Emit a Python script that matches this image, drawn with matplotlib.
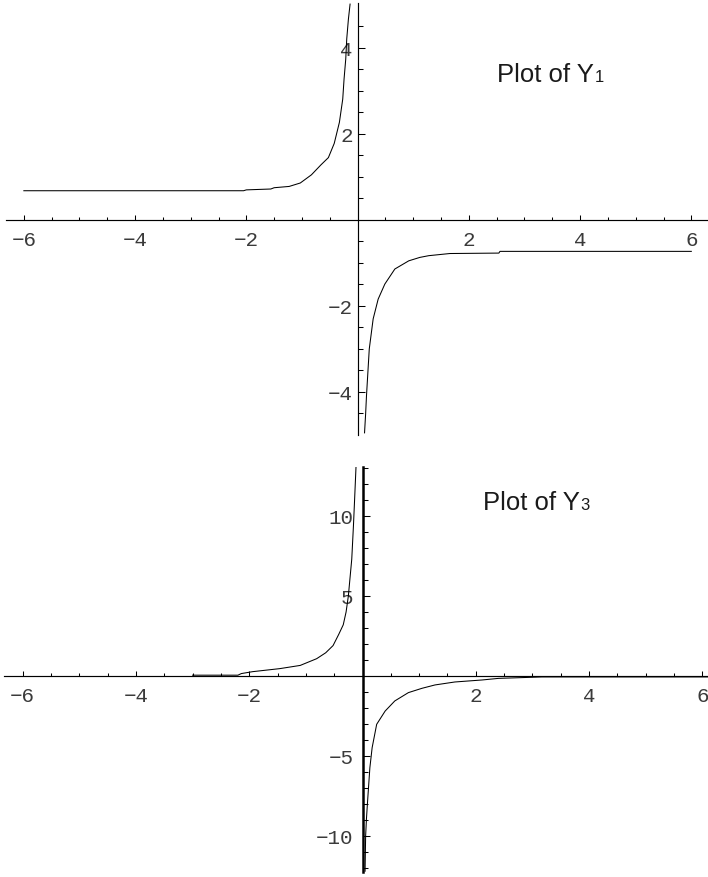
import matplotlib
matplotlib.use('Agg')
import matplotlib.pyplot as plt
from matplotlib.ticker import FixedLocator

# ---------------- data ----------------
# Plot of Y1
y1_left_x = [-6.0, -2.05, -2.0, -1.56, -1.5, -1.23, -1.03, -0.83, -0.66, -0.525,
             -0.42, -0.327, -0.267, -0.243, -0.213, -0.195, -0.165, -0.135]
y1_left_y = [0.68, 0.68, 0.70, 0.72, 0.75, 0.78, 0.86, 1.05, 1.28, 1.45,
             1.78, 2.27, 2.81, 3.28, 3.74, 4.21, 4.67, 5.02]
y1_right_x = [0.125, 0.145, 0.16, 0.21, 0.28, 0.37, 0.49, 0.67, 0.92, 1.12, 1.28,
              1.66, 2.54, 2.56, 6.0]
y1_right_y = [-4.95, -4.5, -4.09, -3.0, -2.3, -1.84, -1.49, -1.14, -0.95, -0.87, -0.83,
              -0.78, -0.77, -0.73, -0.73]

# Plot of Y3
y3_left_x = [-3.0, -2.2, -2.14, -1.94, -1.46, -1.10, -0.81, -0.65, -0.52, -0.42,
             -0.34, -0.29, -0.25, -0.19, -0.16, -0.14, -0.115]
y3_left_y = [0.05, 0.05, 0.15, 0.27, 0.46, 0.66, 1.08, 1.45, 1.9, 2.6,
             3.2, 4.0, 5.0, 7.3, 9.4, 11.0, 13.06]
y3_right_x = [0.045, 0.055, 0.07, 0.09, 0.13, 0.17, 0.25, 0.40, 0.57, 0.81,
              1.05, 1.28, 1.63, 2.11, 2.40, 3.17, 6.1]
y3_right_y = [-12.2, -10.0, -8.9, -7.8, -5.73, -4.48, -3.02, -2.19, -1.56, -1.04,
              -0.77, -0.56, -0.375, -0.25, -0.15, -0.06, -0.06]

# ticks
top_xticks = [-6, -4, -2, 2, 4, 6]
top_yticks = [-4, -2, 2, 4]
bot_xticks = [-6, -4, -2, 2, 4, 6]
bot_yticks = [-10, -5, 5, 10]

titles = ["Plot of Y", "Plot of Y"]
subs = ["1", "3"]

# ---------------- layout ----------------
W, H = 708, 878
fig = plt.figure(figsize=(W / 100, H / 100), dpi=100)
fig.patch.set_facecolor('white')


def px_axes(l, t, r, b):
    return fig.add_axes([l / W, 1 - b / H, (r - l) / W, (b - t) / H])


TICKFONT = ['Liberation Mono', 'DejaVu Sans Mono']
TITLEFONT = ['Liberation Sans', 'DejaVu Sans']
LBL = '#3a3a3a'


def style(ax, xticks, yticks, xminor, yminor, ypad, left_lw):
    for s in ['top', 'right']:
        ax.spines[s].set_visible(False)
    ax.spines['left'].set_position(('data', 0))
    ax.spines['bottom'].set_position(('data', 0))
    ax.spines['left'].set_linewidth(left_lw)
    ax.spines['bottom'].set_linewidth(0.85)
    ax.set_facecolor('none')
    ax.xaxis.set_major_locator(FixedLocator(xticks))
    ax.yaxis.set_major_locator(FixedLocator(yticks))
    ax.xaxis.set_minor_locator(FixedLocator(xminor))
    ax.yaxis.set_minor_locator(FixedLocator(yminor))
    ax.tick_params(axis='x', which='major', direction='in', length=3.6, width=0.75,
                   pad=7, labelsize=15, labelcolor=LBL)
    ax.tick_params(axis='x', which='minor', direction='in', length=2.2, width=0.75)
    ax.tick_params(axis='y', which='major', direction='in', length=5, width=0.75,
                   pad=ypad, labelsize=15, labelcolor=LBL)
    ax.tick_params(axis='y', which='minor', direction='in', length=3.6, width=0.75)
    for lab in ax.get_xticklabels() + ax.get_yticklabels():
        lab.set_fontfamily(TICKFONT)


# top axes
ax1 = px_axes(5.5, 3.8, 708, 436)
ax1.set_xlim(-6.33, 6.30)
ax1.set_ylim(-5.0, 5.05)
ax1.plot(y1_left_x, y1_left_y, color='black', lw=0.75)
ax1.plot(y1_right_x, y1_right_y, color='black', lw=0.75)
xm = [k * 0.5 for k in range(-12, 13) if k % 4 != 0]
ym = [k * 0.5 for k in range(-9, 10) if k % 4 != 0]
style(ax1, top_xticks, top_yticks, xm, ym, ypad=3.5, left_lw=0.85)

# bottom axes
ax2 = px_axes(4, 468, 708, 873)
ax2.set_xlim(-6.33, 6.10)
ax2.set_ylim(-12.25, 13.06)
ax2.plot(y3_left_x, y3_left_y, color='black', lw=0.75)
ax2.plot(y3_right_x, y3_right_y, color='black', lw=0.75)
ym2 = [k for k in range(-12, 14) if k % 5 != 0]
style(ax2, bot_xticks, bot_yticks, xm, ym2, ypad=6.5, left_lw=1.8)

# titles
for (x0, yb), t, s in zip([(497, 82), (483, 510)], titles, subs):
    txt = fig.text(x0 / W, 1 - yb / H, t, fontsize=18.5, family=TITLEFONT,
                   color='#1a1a1a', ha='left', va='baseline')
    fig.text(0, 0, '')
    plt.annotate(s, xy=(1.0, 1 - yb / H), xycoords=(txt, 'figure fraction'),
                 xytext=(0.4, 0), textcoords='offset points',
                 fontsize=12, family=TITLEFONT, color='#1a1a1a',
                 ha='left', va='baseline', annotation_clip=False)

fig.savefig('out.png', dpi=100)
